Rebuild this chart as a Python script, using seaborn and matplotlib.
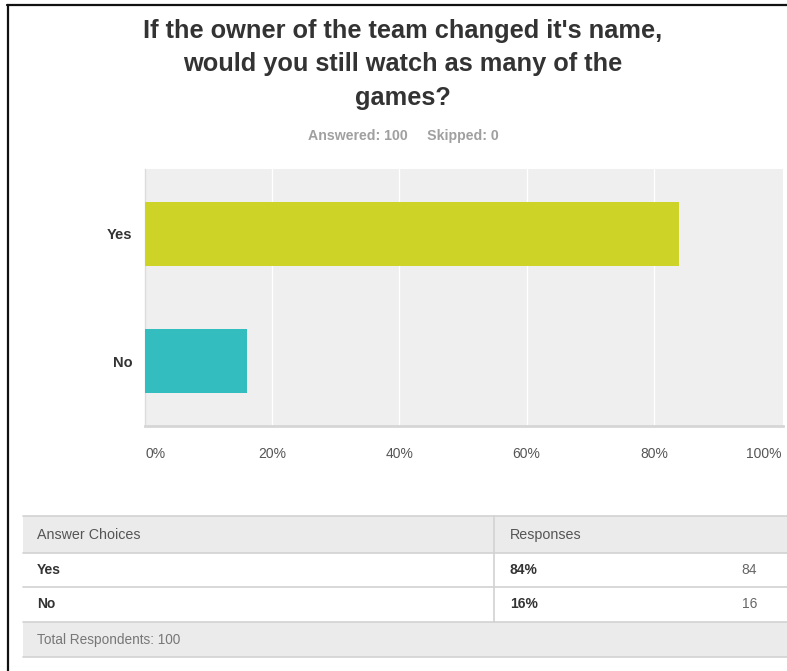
import matplotlib
matplotlib.use("Agg")
import matplotlib.pyplot as plt
import seaborn as sns
import pandas as pd
from matplotlib.patches import Rectangle
from matplotlib.lines import Line2D

# Survey results
choices = ["Yes", "No"]
percents = [84, 16]
counts = [84, 16]
answered = 100
skipped = 0
tick_values = [0, 20, 40, 60, 80, 100]
tick_labels = ["0%", "20%", "40%", "60%", "80%", "100%"]
bar_colors = ["#cdd427", "#33bdbf"]

title_lines = ["If the owner of the team changed it's name,",
               "would you still watch as many of the",
               "games?"]

sns.set_theme(style="white")
plt.rcParams["font.family"] = ["Liberation Sans", "DejaVu Sans"]

W, H = 787, 671
fig = plt.figure(figsize=(W / 100, H / 100), dpi=100)


def fx(px):
    return px / W


def fy(py):
    return 1 - py / H


# Outer frame (top and left edges)
fig.add_artist(Line2D([fx(7), fx(787)], [fy(5), fy(5)], color="#111111", lw=1.6))
fig.add_artist(Line2D([fx(7.5), fx(7.5)], [fy(5), fy(671)], color="#111111", lw=1.6))

# Title block
for line, yy in zip(title_lines, [31, 64, 98]):
    fig.text(fx(403), fy(yy), line, ha="center", va="center",
             fontsize=18.3, fontweight="bold", color="#333333")
fig.text(fx(403), fy(136), f"Answered: {answered}     Skipped: {skipped}", ha="center", va="center",
         fontsize=10.2, fontweight="bold", color="#a0a0a0")

# Bar chart
ax = fig.add_axes([fx(145), fy(426), fx(783 - 145), (426 - 169) / H])
df = pd.DataFrame({"choice": choices, "percent": percents})
sns.barplot(data=df, x="percent", y="choice", hue="choice", palette=bar_colors,
            width=0.5, orient="h", legend=False, ax=ax, saturation=1, zorder=3,
            linewidth=0)
ax.set_facecolor("#efefef")
ax.set_xlim(0, 100.3)
ax.set_ylim(1.51, -0.51)
for v in tick_values[1:-1]:
    ax.axvline(v, color="white", lw=0.9, zorder=1)
ax.set_xticks(tick_values)
ax.set_xticklabels(tick_labels)
labels = ax.get_xticklabels()
labels[0].set_ha("left")
labels[-1].set_ha("right")
ax.tick_params(axis="x", length=0, pad=15, labelsize=10, labelcolor="#555555")
ax.tick_params(axis="y", length=0, pad=9, labelsize=10.5)
for lab in ax.get_yticklabels():
    lab.set_fontweight("bold")
    lab.set_color("#333333")
ax.set_xlabel("")
ax.set_ylabel("")
for side in ["top", "right"]:
    ax.spines[side].set_visible(False)
ax.spines["bottom"].set_color("#d6d6d6")
ax.spines["bottom"].set_linewidth(2)
ax.spines["left"].set_color("#dcdcdc")
ax.spines["left"].set_linewidth(1)

# Response table
tx0, tx1, tdiv = 23, 787, 494
rows_y = [516, 553, 587, 622, 657]
line_c = "#d2d2d2"
head_bg = "#ebebeb"
fig.add_artist(Rectangle((fx(tx0), fy(rows_y[1])), fx(tx1 - tx0), (rows_y[1] - rows_y[0]) / H,
                         facecolor=head_bg, edgecolor="none"))
fig.add_artist(Rectangle((fx(tx0), fy(rows_y[4])), fx(tx1 - tx0), (rows_y[4] - rows_y[3]) / H,
                         facecolor=head_bg, edgecolor="none"))
for yy in rows_y:
    fig.add_artist(Line2D([fx(tx0), fx(tx1)], [fy(yy), fy(yy)], color=line_c, lw=1.2))
fig.add_artist(Line2D([fx(tdiv), fx(tdiv)], [fy(rows_y[0]), fy(rows_y[3])], color=line_c, lw=1.2))

fig.text(fx(37), fy(535), "Answer Choices", ha="left", va="center", fontsize=10.3, color="#555555")
fig.text(fx(510), fy(535), "Responses", ha="left", va="center", fontsize=10.3, color="#555555")
for i, (c, p, n) in enumerate(zip(choices, percents, counts)):
    yc = (rows_y[i + 1] + rows_y[i + 2]) / 2
    fig.text(fx(37), fy(yc), c, ha="left", va="center", fontsize=10, fontweight="bold", color="#333333")
    fig.text(fx(510), fy(yc), f"{p}%", ha="left", va="center", fontsize=10, fontweight="bold", color="#333333")
    fig.text(fx(757), fy(yc), f"{n}", ha="right", va="center", fontsize=10, color="#666666")
fig.text(fx(37), fy(640), f"Total Respondents: {answered}", ha="left", va="center", fontsize=9.8,
         color="#777777")

fig.savefig("out.png", dpi=100, facecolor="white")
